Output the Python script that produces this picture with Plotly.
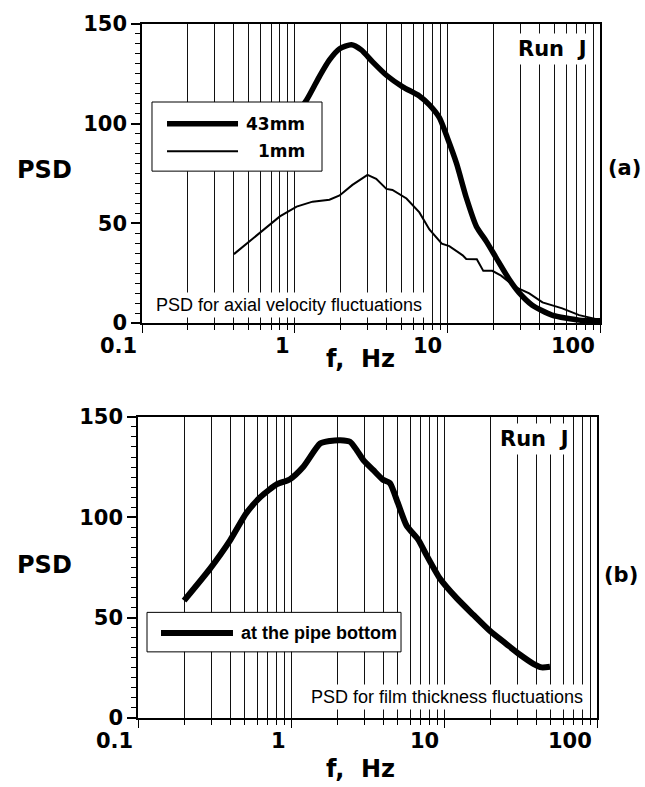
import math
import plotly.graph_objects as go

# ---------------- data ----------------
# (a) axial velocity PSD
f_43mm = [0.4, 0.6, 0.8, 1.0, 1.2, 1.46, 1.69, 1.97, 2.35, 2.73, 3.24, 3.99, 5.1, 6.56,
          7.63, 8.87, 10.0, 11.5, 13.3, 15.5, 18.0, 20.8, 25.4, 29.5, 36.0, 48.5, 73.0, 100.0]
psd_43mm = [80, 88, 96, 104, 112, 124, 132, 137.6, 139.6, 137, 131, 124.3, 118.5, 113.9,
            109.4, 103, 93, 80, 63, 48.5, 41, 33, 22, 15.3, 9, 4, 1.5, 1.2]

f_1mm = [0.4, 0.59, 0.8, 1.03, 1.31, 1.69, 1.97, 2.39, 3.0, 3.42, 3.99, 4.37, 5.4, 6.56,
         7.63, 9.2, 10.3, 12.6, 13.3, 15.6, 17.2, 19.7, 22.5, 28.0, 34.4, 42.0, 56.6, 73.0, 100.0]
psd_1mm = [34.6, 45, 53.5, 58.4, 60.9, 61.9, 64, 69.3, 74.3, 72.4, 67.3, 66.8, 62.5, 55.5,
           47, 39.8, 38.6, 34, 32.2, 32, 26.2, 26.2, 23.8, 18, 14.9, 10.4, 7.4, 4, 1.5]

# (b) film thickness PSD
f_bottom = [0.2, 0.295, 0.4, 0.51, 0.63, 0.81, 0.98, 1.2, 1.55, 1.8, 2.1, 2.43, 2.69, 2.97,
            3.44, 3.99, 4.43, 5.0, 5.7, 6.77, 7.7, 9.4, 12.1, 15.5, 20.0, 25.7, 31.4, 38.4,
            43.5, 49.3]
psd_bottom = [58.5, 74.3, 88.5, 102, 110, 116.5, 118.8, 125, 136.7, 138, 138.4, 137.6, 133.4,
              128.5, 123.6, 118.7, 117, 107, 95.8, 89, 81, 69.5, 59.7, 51.5, 43.3, 36.7, 31.5,
              27, 25.2, 25.5]

x_major = [0.1, 1, 10, 100]
x_major_text = ["0.1", "1", "10", "100"]
x_minor = [m * d for d in (0.1, 1, 10) for m in range(2, 10)]
y_major = [0, 50, 100, 150]

BOLD = dict(family="DejaVu Sans", size=21, color="black", weight="bold")

fig = go.Figure()
fig.add_trace(go.Scatter(x=f_43mm, y=psd_43mm, mode="lines", name="43mm",
                         line=dict(color="black", width=5.5, shape="spline", smoothing=0.6),
                         xaxis="x", yaxis="y", showlegend=False))
fig.add_trace(go.Scatter(x=f_1mm, y=psd_1mm, mode="lines", name="1mm",
                         line=dict(color="black", width=2),
                         xaxis="x", yaxis="y", showlegend=False))
fig.add_trace(go.Scatter(x=f_bottom, y=psd_bottom, mode="lines", name="at the pipe bottom",
                         line=dict(color="black", width=6, shape="spline", smoothing=0.6),
                         xaxis="x2", yaxis="y2", showlegend=False))

def xax(domain, anchor):
    return dict(type="log", range=[-1, 2], domain=domain, anchor=anchor,
                tickvals=x_major, showticklabels=False, ticks="outside", ticklen=8,
                tickwidth=1.2, tickcolor="black",
                showgrid=True, gridcolor="#111", gridwidth=1,
                minor=dict(tickvals=x_minor, ticks="outside", ticklen=5, tickwidth=1,
                           tickcolor="black", showgrid=True, gridcolor="#111", gridwidth=1),
                showline=True, linecolor="black", linewidth=1.5, mirror=True, zeroline=False)

def yax(domain, anchor):
    return dict(range=[0, 150], domain=domain, anchor=anchor,
                tickvals=y_major, ticks="outside", ticklen=9, tickwidth=1.5,
                tickcolor="black", tickfont=BOLD, showgrid=False, zeroline=False,
                minor=dict(dtick=5, ticks="outside", ticklen=5, tickwidth=1,
                           tickcolor="black", showgrid=False),
                showline=True, linecolor="black", linewidth=1.5, mirror=True)

annotations = []
for xr, yr in (("x", "y"), ("x2", "y2")):
    for v, t in zip(x_major, x_major_text):
        annotations.append(dict(x=math.log10(v), y=0, xref=xr, yref=yr, text=t,
                                showarrow=False, xanchor="right", yanchor="middle",
                                xshift=-3, yshift=-23, font=BOLD))

def paper_text(x, y, text, size, xanchor="center", weight="bold", family="DejaVu Sans",
               bg=None, pad=1):
    d = dict(x=x, y=y, xref="paper", yref="paper", text=text, showarrow=False,
             xanchor=xanchor, yanchor="middle",
             font=dict(family=family, size=size, color="black", weight=weight))
    if bg:
        d.update(bgcolor=bg, borderpad=pad)
    return d

# axis titles and labels
annotations += [
    paper_text(-0.2013, 0.7895, "PSD", 24),
    paper_text(-0.2013, 0.2205, "PSD", 24),
    paper_text(0.482, 0.5178, "f,  Hz", 24),
    paper_text(0.482, -0.0740, "f,  Hz", 24),
    paper_text(1.0, 0.7925, "(a)", 21, xanchor="left"),
    paper_text(1.045, 0.2065, "(b)", 21),
    paper_text(0.980, 0.9644, "Run  J", 21, xanchor="right", bg="white", pad=3),
    paper_text(0.941, 0.4026, "Run  J", 21, xanchor="right", bg="white", pad=3),
    paper_text(0.0325, 0.5946, "PSD for axial velocity fluctuations", 18, xanchor="left",
               weight="normal", family="Liberation Sans", bg="white", pad=2),
    paper_text(0.9697, 0.0299, "PSD for film thickness fluctuations", 18, xanchor="right",
               weight="normal", family="Liberation Sans", bg="white", pad=2),
    # legend texts
    paper_text(0.3658, 0.8563, "43mm", 17, xanchor="right"),
    paper_text(0.3658, 0.8165, "1mm", 17, xanchor="right"),
    paper_text(0.2186, 0.1223, "at the pipe bottom", 18, xanchor="left",
               family="Liberation Sans"),
]
annotations[-9]["xshift"] = 6  # (a) sits near the page edge

shapes = [
    # legend (a)
    dict(type="rect", xref="paper", yref="paper", x0=0.0303, x1=0.3983, y0=0.788, y1=0.8876,
         fillcolor="white", line=dict(color="black", width=1), layer="above"),
    dict(type="line", xref="paper", yref="paper", x0=0.0628, x1=0.2165, y0=0.8563, y1=0.8563,
         line=dict(color="black", width=5.5), layer="above"),
    dict(type="line", xref="paper", yref="paper", x0=0.0628, x1=0.2165, y0=0.8165, y1=0.8165,
         line=dict(color="black", width=2), layer="above"),
    # legend (b)
    dict(type="rect", xref="paper", yref="paper", x0=0.0195, x1=0.5693, y0=0.0953, y1=0.1522,
         fillcolor="white", line=dict(color="black", width=1), layer="above"),
    dict(type="line", xref="paper", yref="paper", x0=0.0498, x1=0.2056, y0=0.1223, y1=0.1223,
         line=dict(color="black", width=6), layer="above"),
]

fig.update_layout(
    width=645, height=787,
    margin=dict(l=138, r=45, t=15, b=69),
    paper_bgcolor="white", plot_bgcolor="white",
    xaxis=xax([0.00866, 1.0], "y"),
    yaxis=yax([0.569, 1.0], "x"),
    xaxis2=xax([0.0, 0.9935], "y2"),
    yaxis2=yax([0.0, 0.4339], "x2"),
    annotations=annotations,
    shapes=shapes,
    showlegend=False,
)

fig.write_html("out.html")
